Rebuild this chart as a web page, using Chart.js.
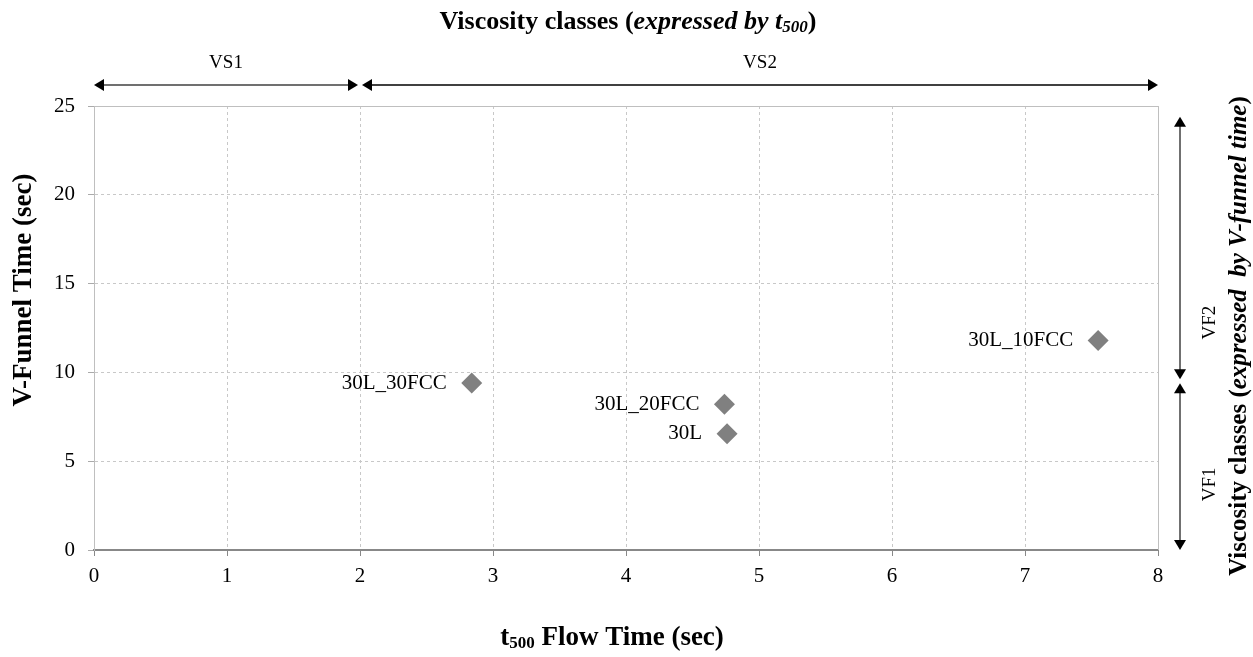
<!DOCTYPE html>
<html>
<head>
<meta charset="utf-8">
<script src="https://cdn.jsdelivr.net/npm/chart.js@4.4.0/dist/chart.umd.min.js"></script>
<style>
  html, body { margin: 0; padding: 0; background: #fff; }
  #wrap { width: 1253px; height: 657px; }
</style>
</head>
<body>
<div id="wrap"><canvas id="chart"></canvas></div>
<script>
// mixes and their measured values
const mixNames = ['30L_30FCC', '30L_20FCC', '30L', '30L_10FCC'];
const t500Values = [2.84, 4.74, 4.76, 7.55];
const vFunnelValues = [9.4, 8.2, 6.55, 11.8];

// class boundaries (x: t500, y: V-funnel)
const vsClasses = ['VS1', 'VS2'];
const vsBounds = [[0, 2], [2, 8]];
const vfClasses = ['VF1', 'VF2'];
const vfBounds = [[0, 9.5], [9.5, 24.4]];

const SERIF = '"Liberation Serif", "Times New Roman", serif';

// draws a list of text pieces one after another, centred on cx/cy
function drawRich(ctx, parts, cx, cy, rot) {
  ctx.save();
  ctx.translate(cx, cy);
  ctx.rotate(rot || 0);
  ctx.textBaseline = 'middle';
  ctx.textAlign = 'left';
  let total = 0;
  parts.forEach(p => { ctx.font = p.font; total += ctx.measureText(p.text).width; });
  let x = -total / 2;
  parts.forEach(p => {
    ctx.font = p.font;
    ctx.fillText(p.text, x, p.dy || 0);
    x += ctx.measureText(p.text).width;
  });
  ctx.restore();
}

function arrowHead(ctx, x, y, dir) {
  // dir: 'l','r','u','d'
  const len = 10, half = 6;
  ctx.beginPath();
  if (dir === 'l') { ctx.moveTo(x, y); ctx.lineTo(x + len, y - half); ctx.lineTo(x + len, y + half); }
  if (dir === 'r') { ctx.moveTo(x, y); ctx.lineTo(x - len, y - half); ctx.lineTo(x - len, y + half); }
  if (dir === 'u') { ctx.moveTo(x, y); ctx.lineTo(x - half, y + len); ctx.lineTo(x + half, y + len); }
  if (dir === 'd') { ctx.moveTo(x, y); ctx.lineTo(x - half, y - len); ctx.lineTo(x + half, y - len); }
  ctx.closePath();
  ctx.fill();
}

const extras = {
  id: 'extras',
  afterDraw(chart) {
    const ctx = chart.ctx;
    const xs = chart.scales.x, ys = chart.scales.y;
    const area = chart.chartArea;

    // top and right border of the plot
    ctx.save();
    ctx.strokeStyle = '#bfbfbf';
    ctx.lineWidth = 1;
    ctx.beginPath();
    ctx.moveTo(area.left, area.top + 0.5);
    ctx.lineTo(area.right + 0.5, area.top + 0.5);
    ctx.lineTo(area.right + 0.5, area.bottom);
    ctx.stroke();
    ctx.restore();

    // point labels
    const meta = chart.getDatasetMeta(0);
    ctx.save();
    ctx.fillStyle = '#000';
    ctx.font = '21px ' + SERIF;
    ctx.textAlign = 'right';
    ctx.textBaseline = 'middle';
    meta.data.forEach((pt, i) => {
      ctx.fillText(mixNames[i], pt.x - 25, pt.y);
    });
    ctx.restore();

    // VS arrows above the plot
    ctx.save();
    const ay = 85;
    ctx.lineWidth = 1.5;
    vsBounds.forEach((b, i) => {
      const x0 = xs.getPixelForValue(b[0]) + (i === 0 ? 0 : 2);
      const x1 = xs.getPixelForValue(b[1]) - (i === 0 ? 2 : 0);
      ctx.strokeStyle = i === 0 ? '#404040' : '#000';
      ctx.fillStyle = '#000';
      ctx.beginPath();
      ctx.moveTo(x0 + 4, ay);
      ctx.lineTo(x1 - 4, ay);
      ctx.stroke();
      arrowHead(ctx, x0, ay, 'l');
      arrowHead(ctx, x1, ay, 'r');
      ctx.font = '19px ' + SERIF;
      ctx.textAlign = 'center';
      ctx.textBaseline = 'middle';
      ctx.fillText(vsClasses[i], (x0 + x1) / 2, 63);
    });

    // VF arrows right of the plot
    const ax = 1180;
    vfBounds.forEach((b, i) => {
      const y0 = ys.getPixelForValue(b[0]) + (i === 0 ? 0 : -2);
      const y1 = ys.getPixelForValue(b[1]) + (i === 0 ? 2 : 0);
      ctx.strokeStyle = '#404040';
      ctx.fillStyle = '#000';
      ctx.beginPath();
      ctx.moveTo(ax, y0 - 4);
      ctx.lineTo(ax, y1 + 4);
      ctx.stroke();
      arrowHead(ctx, ax, y0, 'd');
      arrowHead(ctx, ax, y1, 'u');
    });
    ctx.fillStyle = '#000';
    drawRich(ctx, [{ text: vfClasses[0], font: '19px ' + SERIF }], 1210, ys.getPixelForValue(3.7), -Math.PI / 2);
    drawRich(ctx, [{ text: vfClasses[1], font: '19px ' + SERIF }], 1210, ys.getPixelForValue(12.8), -Math.PI / 2);
    ctx.restore();

    // titles
    ctx.save();
    ctx.fillStyle = '#000';
    const b = 'bold 26px ' + SERIF;
    const bi = 'italic bold 26px ' + SERIF;
    const bis = 'italic bold 17px ' + SERIF;
    drawRich(ctx, [
      { text: 'Viscosity classes (', font: b },
      { text: 'expressed by t', font: bi },
      { text: '500', font: bis, dy: 6 },
      { text: ')', font: b }
    ], 628, 22, 0);

    const b25 = 'bold 25px ' + SERIF;
    const bi25 = 'italic bold 25px ' + SERIF;
    drawRich(ctx, [
      { text: 'Viscosity classes (', font: b25 },
      { text: 'expressed  by V-funnel time', font: bi25 },
      { text: ')', font: b25 }
    ], 1240, 336, -Math.PI / 2);

    drawRich(ctx, [
      { text: 'V-Funnel Time (sec)', font: 'bold 27px ' + SERIF }
    ], 24, 290, -Math.PI / 2);

    drawRich(ctx, [
      { text: 't', font: 'bold 27px ' + SERIF },
      { text: '500', font: 'bold 17px ' + SERIF, dy: 6 },
      { text: ' Flow Time (sec)', font: 'bold 27px ' + SERIF }
    ], 612, 638, 0);
    ctx.restore();
  }
};

new Chart(document.getElementById('chart'), {
  type: 'scatter',
  data: {
    datasets: [{
      label: 'Mixes',
      data: t500Values.map((x, i) => ({ x: x, y: vFunnelValues[i] })),
      pointStyle: 'rectRot',
      pointRadius: 10.5,
      pointHoverRadius: 10.5,
      backgroundColor: '#808080',
      borderColor: '#808080',
      borderWidth: 0
    }]
  },
  options: {
    responsive: true,
    maintainAspectRatio: false,
    animation: false,
    layout: { padding: { left: 0, top: 106, right: 95, bottom: 0 } },
    plugins: {
      legend: { display: false },
      tooltip: { enabled: false }
    },
    scales: {
      x: {
        type: 'linear',
        min: 0,
        max: 8,
        afterFit: s => { s.height = 107; },
        ticks: { stepSize: 1, padding: 8, color: '#000', font: { family: SERIF, size: 21 } },
        grid: { color: '#c8c8c8', tickColor: '#888', tickLength: 6, tickBorderDash: [], lineWidth: 1 },
        border: { color: '#888', width: 2, dash: [3, 3] }
      },
      y: {
        type: 'linear',
        min: 0,
        max: 25,
        afterFit: s => { s.width = 94; },
        ticks: { stepSize: 5, padding: 13, color: '#000', font: { family: SERIF, size: 21 } },
        grid: { color: '#c8c8c8', tickColor: '#aaa', tickLength: 6, tickBorderDash: [], lineWidth: 1 },
        border: { color: '#bfbfbf', width: 1, dash: [3, 3] }
      }
    }
  },
  plugins: [extras]
});
</script>
</body>
</html>
